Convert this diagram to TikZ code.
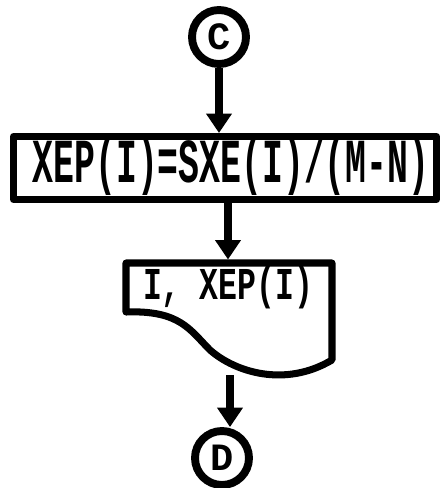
\documentclass[tikz,border=0pt]{standalone}
\usepackage{fontspec}
\setmonofont{Liberation Mono}
\usetikzlibrary{arrows.meta}

\begin{document}
\begin{tikzpicture}[x=0.02cm, y=-0.02cm,
  connector/.style={circle, draw, line width=4.5pt, minimum size=1.08cm, inner sep=0pt},
  flow/.style={-{Triangle[width=14pt,length=11pt]}, line width=4pt},
  outline/.style={line width=4pt, line join=round}]
  \useasboundingbox (0,0) rectangle (444,488);

  \node[connector] (c) at (219,37) {\fontsize{22}{22}\selectfont\ttfamily\bfseries C};
  \node[draw, outline, minimum width=8.46cm, minimum height=1.26cm, inner sep=0pt] (proc) at (225,168) {};
  \node[font=\fontsize{19.8}{20}\selectfont\ttfamily\bfseries] at (231,166) {\scalebox{1}[1.8]{XEP(I)=SXE(I)/(M-N)}};

  % output document
  \draw[outline] (126,312) -- (126,263) -- (332,263) -- (332,360)
    .. controls (285,388) and (235,372) .. (210,350)
    .. controls (190,330) and (180,310) .. (126,312) -- cycle;
  \node[font=\fontsize{17.9}{18}\selectfont\ttfamily\bfseries] (out) at (228,288) {\scalebox{1}[1.45]{I, XEP(I)}};
  \coordinate (doctop) at (228,259.5);
  \coordinate (docbot) at (230,375);

  \node[connector] (d) at (222,458) {\fontsize{22}{22}\selectfont\ttfamily\bfseries D};

  \draw[flow] (c.south) -- (c.south |- proc.north);
  \draw[flow] (proc.south -| doctop) -- (doctop);
  \draw[flow] (docbot) -- (docbot |- d.north);
\end{tikzpicture}
\end{document}
